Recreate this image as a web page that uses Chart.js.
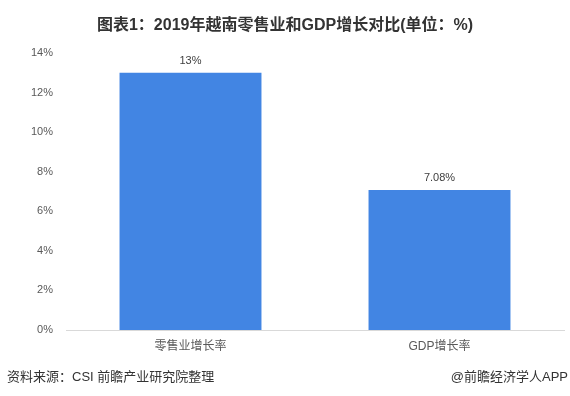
<!DOCTYPE html>
<html>
<head>
<meta charset="utf-8">
<script src="https://cdn.jsdelivr.net/npm/chart.js@4.4.1/dist/chart.umd.min.js"></script>
<style>
    body { margin: 0; background: #fff; }
    #wrap { position: relative; width: 570px; height: 396px; font-family: "Liberation Sans", "Noto Sans CJK SC", sans-serif; }
    #title { position: absolute; top: 11px; left: 0; width: 570px; text-align: center; font-size: 16px; font-weight: bold; color: #333; }
    #source { position: absolute; left: 7px; top: 366px; font-size: 13px; color: #333; }
    #brand { position: absolute; right: 2px; top: 366px; font-size: 13px; color: #333; }
    canvas { position: absolute; left: 0; top: 0; }
</style>
</head>
<body>
<div id="wrap">
    <canvas id="chart" width="570" height="396"></canvas>
    <div id="title">图表1：2019年越南零售业和GDP增长对比(单位：%)</div>
    <div id="source">资料来源：CSI 前瞻产业研究院整理</div>
    <div id="brand">@前瞻经济学人APP</div>
</div>
<script>
const categories = ['零售业增长率', 'GDP增长率'];
const values = [13, 7.08];
const yTicks = [0, 2, 4, 6, 8, 10, 12, 14];

const fontFamily = '"Liberation Sans", "Noto Sans CJK SC", sans-serif';
const barColor = '#4285E3';

// value labels above each bar
const barLabels = {
    id: 'barLabels',
    afterDatasetsDraw(chart) {
        const ctx = chart.ctx;
        const meta = chart.getDatasetMeta(0);
        ctx.save();
        ctx.font = '11px ' + fontFamily;
        ctx.fillStyle = '#404040';
        ctx.textAlign = 'center';
        ctx.textBaseline = 'middle';
        meta.data.forEach((bar, i) => {
            ctx.fillText(values[i] + '%', bar.x, bar.y - 12);
        });
        ctx.restore();
    }
};

new Chart(document.getElementById('chart'), {
    type: 'bar',
    data: {
        labels: categories,
        datasets: [{
            data: values,
            backgroundColor: barColor,
            categoryPercentage: 1,
            barPercentage: 0.57
        }]
    },
    options: {
        responsive: false,
        animation: false,
        layout: { padding: { top: 53, right: 6, bottom: 0, left: 0 } },
        plugins: {
            legend: { display: false },
            tooltip: { enabled: false }
        },
        scales: {
            x: {
                grid: { display: false, drawTicks: false },
                border: { color: '#d9d9d9', width: 1 },
                ticks: { padding: 9, color: '#595959', font: { size: 12, family: fontFamily } },
                afterFit: (scale) => { scale.height = 66; }
            },
            y: {
                min: 0,
                max: 14,
                grid: { display: false, drawTicks: false },
                border: { display: false },
                afterBuildTicks: (scale) => { scale.ticks = yTicks.map(v => ({ value: v })); },
                ticks: {
                    padding: 13,
                    color: '#595959',
                    font: { size: 11, family: fontFamily },
                    callback: (v) => v + '%'
                },
                afterFit: (scale) => { scale.width = 66; }
            }
        }
    },
    plugins: [barLabels]
});
</script>
</body>
</html>
